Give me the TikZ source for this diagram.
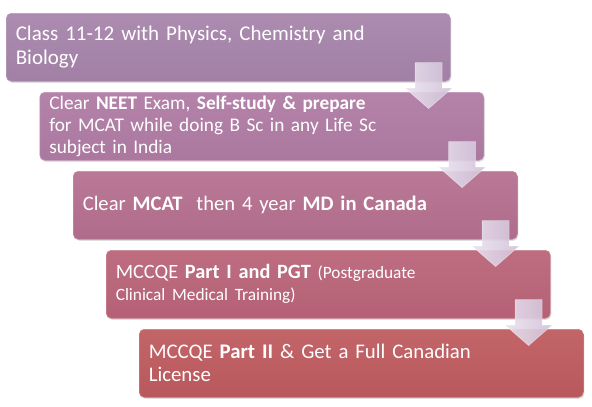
\documentclass[tikz,border=0pt]{standalone}
\usepackage{fontspec}
\setmainfont{Carlito}
\usetikzlibrary{calc,shadows}
\definecolor{cA}{HTML}{A784AB}
\definecolor{cB}{HTML}{B07BA4}
\definecolor{cC}{HTML}{B5708F}
\definecolor{cD}{HTML}{BA6479}
\definecolor{cE}{HTML}{BE5B5F}
\definecolor{arL}{HTML}{EAE1EE}
\definecolor{arR}{HTML}{D0C1D8}
\begin{document}
\begin{tikzpicture}[x=1pt,y=-1pt,
  stepbox/.style={rounded corners=5pt, minimum width=444pt, minimum height=68pt,
    text width=425pt, inner xsep=9.5pt, inner ysep=0pt, align=left, anchor=north west,
    text=white, top color=#1!94!white, bottom color=#1!97!black,
    draw=#1!80!white, line width=0.6pt,
    drop shadow={opacity=0.25, shadow xshift=1pt, shadow yshift=-1.5pt}},
  arrowshape/.style={left color=arL, right color=arR, fill opacity=0.9, draw=white, draw opacity=0.5, line width=0.5pt}
]
\path[use as bounding box] (0,0) rectangle (592,407);
\node[stepbox=cA, font=\fontsize{21}{24.3}\selectfont] (b1) at (6,13)
  {Class 11-12 with Physics, Chemistry and\\Biology};
\node[stepbox=cB, font=\fontsize{19.3}{21.8}\selectfont] (b2) at (39.5,92)
  {Clear \textbf{NEET} Exam, \textbf{Self-study \& prepare}\\for MCAT while doing B Sc in any Life Sc\\subject in India};
\node[stepbox=cC, font=\fontsize{20.6}{24}\selectfont] (b3) at (73,171)
  {Clear \textbf{MCAT}\ \ then 4 year \textbf{MD in Canada}};
\node[stepbox=cD, font=\fontsize{20.3}{22}\selectfont] (b4) at (106,250)
  {MCCQE \textbf{Part I and PGT} {\fontsize{17.3}{22}\selectfont(Postgraduate}\\{\fontsize{17.3}{22}\selectfont Clinical Medical Training)}};
\node[stepbox=cE, font=\fontsize{20.8}{23}\selectfont] (b5) at (139,329)
  {MCCQE \textbf{Part II} \& Get a Full Canadian\\License};
\foreach \u in {b1,b2,b3,b4}{
  \shade[arrowshape] ($(\u.south east)+(-22,-19)$) ++(-13.5,0) -- ++(27,0) -- ++(0,25.5)
    -- ++(10,0) -- ++(-23.5,20.5) -- ++(-23.5,-20.5) -- ++(10,0) -- cycle;
}
\end{tikzpicture}
\end{document}
